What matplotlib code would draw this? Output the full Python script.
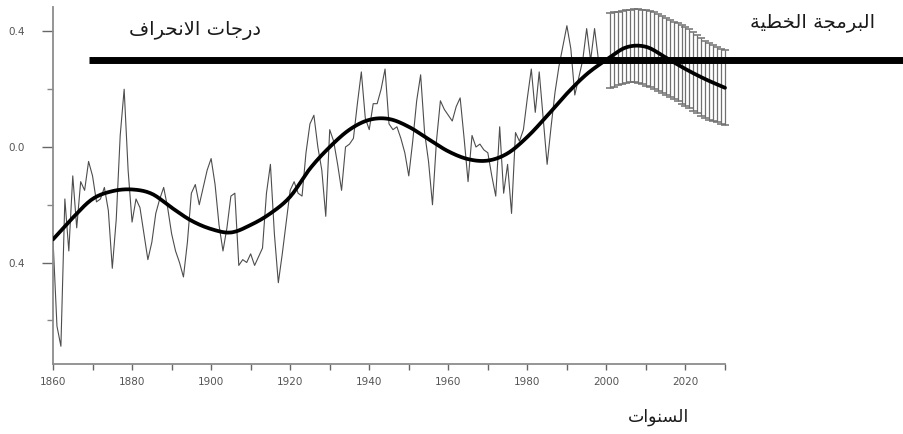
import numpy as np
import matplotlib
matplotlib.use('Agg')
import matplotlib.pyplot as plt
from matplotlib.ticker import FixedLocator, FixedFormatter

# annual temperature deviation
ANNUAL_START = 1860
ANNUAL = [
    -0.32, -0.62, -0.69, -0.18, -0.36, -0.10, -0.28, -0.12, -0.15, -0.05,  # 1860s
    -0.10, -0.19, -0.18, -0.14, -0.22, -0.42, -0.25, 0.04, 0.20, -0.08,    # 1870s
    -0.26, -0.18, -0.21, -0.30, -0.39, -0.33, -0.23, -0.18, -0.14, -0.21,  # 1880s
    -0.30, -0.36, -0.40, -0.45, -0.33, -0.16, -0.13, -0.20, -0.14, -0.08,  # 1890s
    -0.04, -0.13, -0.27, -0.36, -0.28, -0.17, -0.16, -0.41, -0.39, -0.40,  # 1900s
    -0.37, -0.41, -0.38, -0.35, -0.16, -0.06, -0.30, -0.47, -0.37, -0.26,  # 1910s
    -0.15, -0.12, -0.16, -0.17, -0.02, 0.08, 0.11, 0.00, -0.08, -0.24,     # 1920s
    0.06, 0.02, -0.06, -0.15, 0.00, 0.01, 0.03, 0.15, 0.26, 0.10,          # 1930s
    0.06, 0.15, 0.15, 0.20, 0.27, 0.08, 0.06, 0.07, 0.03, -0.02,           # 1940s
    -0.10, 0.02, 0.16, 0.25, 0.05, -0.05, -0.20, 0.02, 0.16, 0.13,         # 1950s
    0.11, 0.09, 0.14, 0.17, 0.03, -0.12, 0.04, 0.00, 0.01, -0.01,          # 1960s
    -0.02, -0.10, -0.17, 0.07, -0.16, -0.06, -0.23, 0.05, 0.02, 0.06,      # 1970s
    0.17, 0.27, 0.12, 0.26, 0.10, -0.06, 0.07, 0.19, 0.28, 0.35,           # 1980s
    0.42, 0.34, 0.18, 0.24, 0.30, 0.41, 0.30, 0.41, 0.30,                  # 1990s
]

# smoothed curve every 5 years, 1860-2030
SMOOTH_YEARS = list(range(1860, 2031, 5))
SMOOTH = [
    -0.32, -0.245, -0.18, -0.153, -0.147, -0.162, -0.21, -0.255, -0.284, -0.296,
    -0.27, -0.23, -0.172, -0.075, 0.0, 0.06, 0.094, 0.097, 0.07, 0.027,
    -0.015, -0.042, -0.047, -0.022, 0.035, 0.108, 0.185, 0.252, 0.302, 0.345,
    0.347, 0.31, 0.27, 0.235, 0.205,
]

# projection band (top / bottom of each error bar)
ERR_YEARS = list(range(2001, 2031))
ERR_HIGH = [
    0.463, 0.466, 0.469, 0.472, 0.474, 0.476, 0.477, 0.477, 0.476, 0.475,
    0.472, 0.466, 0.460, 0.453, 0.446, 0.440, 0.434, 0.428, 0.421, 0.415,
    0.408, 0.398, 0.388, 0.378, 0.368, 0.360, 0.354, 0.347, 0.341, 0.336,
]
ERR_LOW = [
    0.203, 0.208, 0.213, 0.218, 0.222, 0.226, 0.226, 0.222, 0.217, 0.212,
    0.209, 0.202, 0.195, 0.188, 0.181, 0.174, 0.166, 0.158, 0.150, 0.142,
    0.134, 0.126, 0.118, 0.109, 0.101, 0.093, 0.089, 0.085, 0.080, 0.076,
]

LEVEL_VALUE = 0.30
LEVEL_START = 1869

X_TICKS = list(range(1860, 2021, 20))
X_MINOR = list(range(1870, 2031, 20))
Y_TICKS = [0.4, 0.0, -0.4]
Y_TICK_LABELS = ['0.4', '0.0', '0.4']
Y_MINOR = [0.2, -0.2, -0.6]

TITLE_LEFT = 'درجات الانحراف'
TITLE_RIGHT = 'البرمجة الخطية'
X_LABEL = 'السنوات'

# presentation forms: isolated, final, initial, medial
FORMS = {
    'ا': ('\uFE8D', '\uFE8E', None, None),
    'ب': ('\uFE8F', '\uFE90', '\uFE91', '\uFE92'),
    'ت': ('\uFE95', '\uFE96', '\uFE97', '\uFE98'),
    'ة': ('\uFE93', '\uFE94', None, None),
    'ج': ('\uFE9D', '\uFE9E', '\uFE9F', '\uFEA0'),
    'ح': ('\uFEA1', '\uFEA2', '\uFEA3', '\uFEA4'),
    'خ': ('\uFEA5', '\uFEA6', '\uFEA7', '\uFEA8'),
    'د': ('\uFEA9', '\uFEAA', None, None),
    'ر': ('\uFEAD', '\uFEAE', None, None),
    'س': ('\uFEB1', '\uFEB2', '\uFEB3', '\uFEB4'),
    'ط': ('\uFEC1', '\uFEC2', '\uFEC3', '\uFEC4'),
    'ف': ('\uFED1', '\uFED2', '\uFED3', '\uFED4'),
    'ل': ('\uFEDD', '\uFEDE', '\uFEDF', '\uFEE0'),
    'م': ('\uFEE1', '\uFEE2', '\uFEE3', '\uFEE4'),
    'ن': ('\uFEE5', '\uFEE6', '\uFEE7', '\uFEE8'),
    'و': ('\uFEED', '\uFEEE', None, None),
    'ي': ('\uFEF1', '\uFEF2', '\uFEF3', '\uFEF4'),
}


def shape_arabic(text):
    """Join letters and put them in visual (left to right) order."""
    out = []
    n = len(text)
    i = 0
    while i < n:
        c = text[i]
        if c not in FORMS:
            out.append(c)
            i += 1
            continue
        prev = text[i - 1] if i > 0 else None
        joins_prev = prev in FORMS and FORMS[prev][2] is not None
        if c == 'ل' and i + 1 < n and text[i + 1] == 'ا':
            out.append('\uFEFC' if joins_prev else '\uFEFB')
            i += 2
            continue
        nxt = text[i + 1] if i + 1 < n else None
        iso, fin, ini, med = FORMS[c]
        joins_next = ini is not None and nxt in FORMS
        if joins_prev and joins_next:
            out.append(med)
        elif joins_prev:
            out.append(fin)
        elif joins_next:
            out.append(ini)
        else:
            out.append(iso)
        i += 1
    return ''.join(reversed(out))


def smooth_path(xs, ys, steps=12):
    """Catmull-Rom curve through the given points, for drawing only."""
    xs = np.asarray(xs, float)
    ys = np.asarray(ys, float)
    px = np.concatenate([[2 * xs[0] - xs[1]], xs, [2 * xs[-1] - xs[-2]]])
    py = np.concatenate([[2 * ys[0] - ys[1]], ys, [2 * ys[-1] - ys[-2]]])
    t = np.linspace(0, 1, steps, endpoint=False)[:, None]
    segs_x, segs_y = [], []
    for k in range(1, len(px) - 2):
        for p, out in ((px, segs_x), (py, segs_y)):
            p0, p1, p2, p3 = p[k - 1], p[k], p[k + 1], p[k + 2]
            out.append((0.5 * ((2 * p1) + (-p0 + p2) * t
                               + (2 * p0 - 5 * p1 + 4 * p2 - p3) * t ** 2
                               + (-p0 + 3 * p1 - 3 * p2 + p3) * t ** 3)).ravel())
    return (np.concatenate(segs_x + [[xs[-1]]]),
            np.concatenate(segs_y + [[ys[-1]]]))


W, H = 904, 434
fig = plt.figure(figsize=(W / 100, H / 100), dpi=100)
# 1860 sits at x=53px, 3.953 px per year; value 0 at y=147px, 288.75 px per unit
x_max = 1860 + (W - 53) / 3.953
ax = fig.add_axes([53 / W, (H - 363.6) / H, (W - 53) / W, 361 / H])
ax.set_xlim(1860, x_max)
ax.set_ylim(-0.75, 0.5)

years = np.arange(ANNUAL_START, ANNUAL_START + len(ANNUAL))
ax.plot(years, ANNUAL, color='#4d4d4d', lw=0.8, zorder=2)

err_hi = np.array(ERR_HIGH)
err_lo = np.array(ERR_LOW)
mid = (err_hi + err_lo) / 2
half = (err_hi - err_lo) / 2
_, caps, bars = ax.errorbar(ERR_YEARS, mid, yerr=half, fmt='none',
                            ecolor='#707070', elinewidth=0.9, capsize=3,
                            capthick=1.1, zorder=3)
for cap in caps:
    cap.set_color('#2a2a2a')

sx, sy = smooth_path(SMOOTH_YEARS, SMOOTH)
ax.plot(sx, sy, color='black', lw=2.7, solid_capstyle='round', zorder=4)
ax.hlines(LEVEL_VALUE, LEVEL_START, x_max, color='black', lw=5, zorder=5)

for side in ['top', 'right']:
    ax.spines[side].set_visible(False)
for side in ['left', 'bottom']:
    ax.spines[side].set_color('#8c8c8c')
    ax.spines[side].set_linewidth(1.3)
ax.spines['bottom'].set_bounds(1860, 2030)
ax.spines['left'].set_bounds(-0.75, 0.485)

ax.xaxis.set_major_locator(FixedLocator(X_TICKS))
ax.xaxis.set_minor_locator(FixedLocator(X_MINOR))
ax.yaxis.set_major_locator(FixedLocator(Y_TICKS))
ax.yaxis.set_major_formatter(FixedFormatter(Y_TICK_LABELS))
ax.yaxis.set_minor_locator(FixedLocator(Y_MINOR))

ax.tick_params(axis='x', which='both', direction='out', length=4, width=1,
               color='#666666', labelsize=7.5, labelcolor='#555555', pad=6)
ax.tick_params(axis='y', which='major', direction='out', length=8, width=1,
               color='#666666', labelsize=7.5, labelcolor='#555555', pad=12)
ax.tick_params(axis='y', which='minor', direction='out', length=4, width=1,
               color='#888888')
for lab in ax.get_xticklabels() + ax.get_yticklabels():
    lab.set_family('Liberation Sans Narrow')

arabic = dict(family=['DejaVu Sans'], color='#1a1a1a')
fig.text(195 / W, 1 - 30 / H, shape_arabic(TITLE_LEFT), ha='center',
         va='center', fontsize=14, **arabic)
fig.text(813 / W, 1 - 22 / H, shape_arabic(TITLE_RIGHT), ha='center',
         va='center', fontsize=14, **arabic)
fig.text(659 / W, 1 - 417 / H, shape_arabic(X_LABEL), ha='center',
         va='center', fontsize=12.5, **arabic)

fig.savefig('out.png', dpi=100)
